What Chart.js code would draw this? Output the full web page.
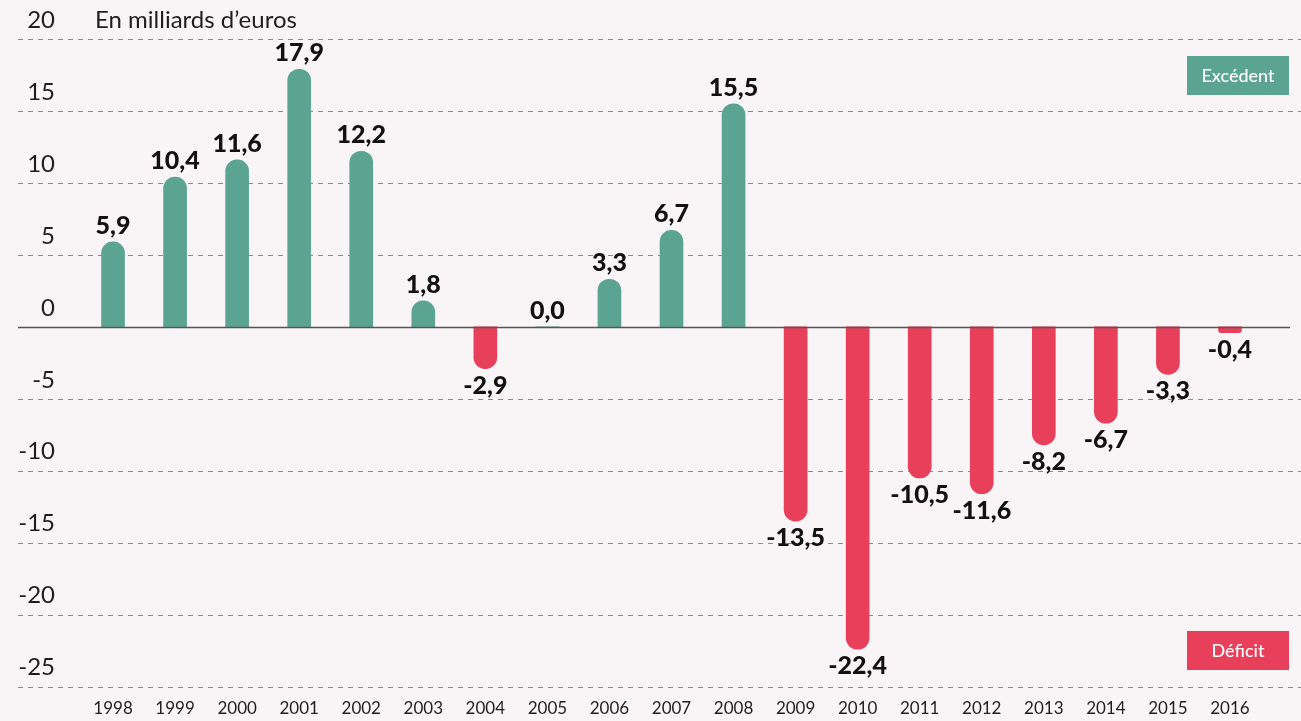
<!DOCTYPE html>
<html>
<head>
<meta charset="utf-8">
<script src="https://cdn.jsdelivr.net/npm/chart.js@4"></script>
<style>
  html, body { margin: 0; padding: 0; background: #f9f5f6; }
  #wrap { width: 1301px; height: 721px; position: relative; }
</style>
</head>
<body>
<div id="wrap"><canvas id="soldeChart"></canvas></div>
<script>
// Data
const years = ["1998", "1999", "2000", "2001", "2002", "2003", "2004", "2005", "2006", "2007",
  "2008", "2009", "2010", "2011", "2012", "2013", "2014", "2015", "2016"];
const solde = [5.9, 10.4, 11.6, 17.9, 12.2, 1.8, -2.9, 0.0, 3.3, 6.7,
  15.5, -13.5, -22.4, -10.5, -11.6, -8.2, -6.7, -3.3, -0.4];
const yTicks = [20, 15, 10, 5, 0, -5, -10, -15, -20, -25];
const unitLabel = "En milliards d\u2019euros";
const legendLabels = ["Excédent", "Déficit"];

const GREEN = "#5ba492";
const RED = "#e8405a";
const FONT = "Lato, 'Open Sans', sans-serif";

// gridlines, y labels, title
const backdrop = {
  id: "backdrop",
  beforeDatasetsDraw(chart) {
    const { ctx, scales: { y }, width } = chart;
    ctx.save();
    ctx.strokeStyle = "#8a8a8a";
    ctx.lineWidth = 1;
    ctx.setLineDash([5, 5]);
    yTicks.forEach((t) => {
      if (t === 0) return;
      const py = Math.round(y.getPixelForValue(t)) + 0.5;
      ctx.beginPath();
      ctx.moveTo(18, py);
      ctx.lineTo(width, py);
      ctx.stroke();
    });
    ctx.setLineDash([]);
    ctx.fillStyle = "#1e1e1e";
    ctx.font = "24px " + FONT;
    ctx.textAlign = "right";
    ctx.textBaseline = "middle";
    yTicks.forEach((t) => {
      ctx.fillText(String(t), 55, y.getPixelForValue(t) - 19);
    });
    ctx.textAlign = "left";
    ctx.fillText(unitLabel, 95, y.getPixelForValue(20) - 19);
    ctx.restore();
  },
  afterDatasetsDraw(chart) {
    const { ctx, scales: { y } } = chart;
    ctx.save();
    // zero line
    const zy = Math.round(y.getPixelForValue(0)) + 0.5;
    ctx.strokeStyle = "#555";
    ctx.lineWidth = 1.5;
    ctx.beginPath();
    ctx.moveTo(18, zy);
    ctx.lineTo(1290, zy);
    ctx.stroke();

    // value labels
    ctx.fillStyle = "#111";
    ctx.font = "900 25px " + FONT;
    ctx.textAlign = "center";
    ctx.textBaseline = "alphabetic";
    const meta = chart.getDatasetMeta(0);
    meta.data.forEach((bar, i) => {
      const v = solde[i];
      const txt = v.toFixed(1).replace(".", ",");
      if (v >= 0) {
        ctx.fillText(txt, bar.x, bar.y - 8);
      } else {
        ctx.fillText(txt, bar.x, bar.y + 25);
      }
    });

    // legend boxes
    const boxes = [
      { text: legendLabels[0], color: GREEN, top: 56 },
      { text: legendLabels[1], color: RED, top: 631 },
    ];
    boxes.forEach((b) => {
      ctx.fillStyle = b.color;
      ctx.fillRect(1187, b.top, 102, 39);
      ctx.fillStyle = "#ffffff";
      ctx.font = "500 18px " + FONT;
      ctx.textBaseline = "middle";
      ctx.fillText(b.text, 1187 + 51, b.top + 20);
    });
    ctx.restore();
  },
};

const ctx = document.getElementById("soldeChart").getContext("2d");
const soldeChart = new Chart(ctx, {
  type: "bar",
  data: {
    labels: years,
    datasets: [
      {
        data: solde,
        backgroundColor: solde.map((v) => (v >= 0 ? GREEN : RED)),
        barThickness: 23,
        borderRadius: 11.5,
        borderSkipped: "start",
      },
    ],
  },
  options: {
    responsive: true,
    maintainAspectRatio: false,
    animation: false,
    layout: {
      padding: { top: 39, left: 82, right: 40, bottom: -10 },
    },
    plugins: {
      legend: { display: false },
      tooltip: { enabled: false },
    },
    scales: {
      y: {
        display: false,
        min: -25,
        max: 20,
      },
      x: {
        grid: { display: false, drawTicks: false },
        border: { display: false },
        ticks: {
          color: "#1e1e1e",
          font: { family: FONT, size: 17 },
          padding: 12,
          maxRotation: 0,
          autoSkip: false,
        },
      },
    },
  },
  plugins: [backdrop],
});
</script>
</body>
</html>
